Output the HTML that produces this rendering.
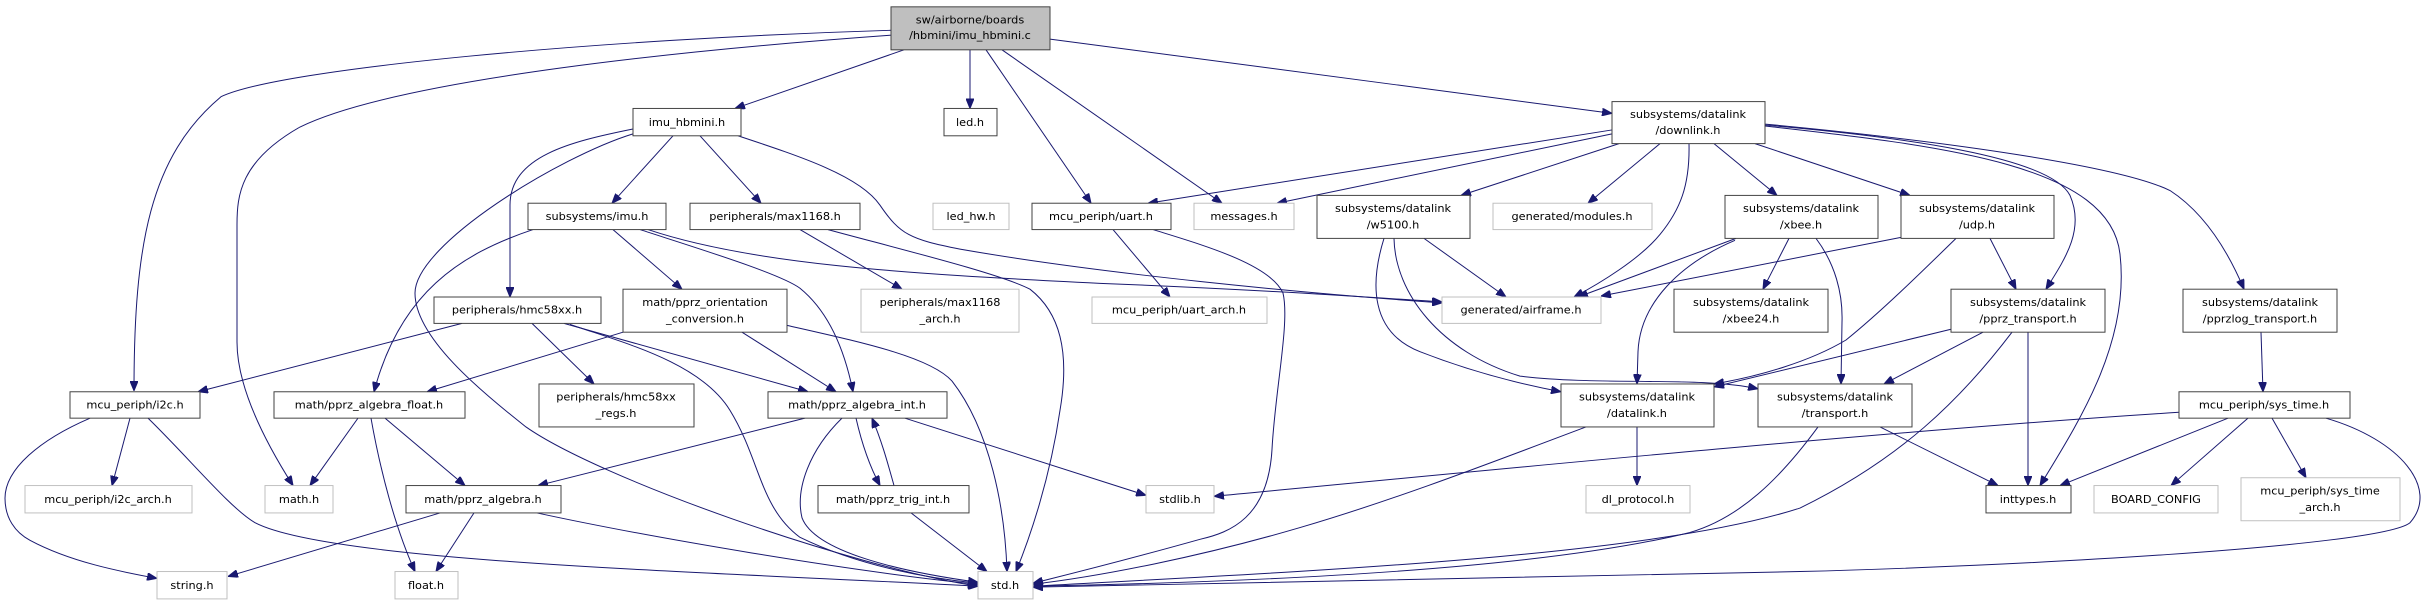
<!DOCTYPE html>
<html><head><meta charset="utf-8"><style>
html,body{margin:0;padding:0;background:#fff;}
svg{display:block;}
text{font-family:"DejaVu Sans","Liberation Sans",sans-serif;font-size:11.3px;fill:#000;text-anchor:middle;}
.n{fill:#fff;stroke:#404040;stroke-width:1;}
.g{fill:#fff;stroke:#bfbfbf;stroke-width:1;}
.e{fill:none;stroke:#191970;stroke-width:1;marker-end:url(#a);}
</style></head><body>
<svg width="2426" height="600" viewBox="0 0 2426 600" xmlns="http://www.w3.org/2000/svg">
<defs><marker id="a" markerWidth="10" markerHeight="8" refX="10" refY="4" orient="auto" markerUnits="userSpaceOnUse"><path d="M0,0 L10,4 L0,8 z" fill="#191970" stroke="#191970"/></marker></defs>
<g transform="scale(1,0.977)">
<g>
<path class="e" d="M891,31 C600,40 280,70 221,99 C150,160 134,250 134,400"/>
<path class="e" d="M891,36 C700,50 400,80 300,130 C240,165 237,200 237,230 L237,350 C237,400 270,460 293,497"/>
<path class="e" d="M904,51 L735,111"/>
<path class="e" d="M970,51 L970,111"/>
<path class="e" d="M986,51 L1091,208"/>
<path class="e" d="M1002,51 L1222,208"/>
<path class="e" d="M1050,40 L1612,116"/>
<path class="e" d="M673,139 L612,208"/>
<path class="e" d="M700,139 L761,208"/>
<path class="e" d="M633,132 C570,145 510,160 510,210 L510,304"/>
<path class="e" d="M633,137 C560,160 415,250 415,300 C415,345 480,400 526,437 C600,490 850,580 978,600"/>
<path class="e" d="M738,139 C800,160 860,180 880,210 C900,240 910,245 960,255 C1100,280 1300,300 1442,310"/>
<path class="e" d="M533,235 C460,260 400,300 374,401"/>
<path class="e" d="M613,235 L682,296"/>
<path class="e" d="M640,235 C700,255 780,280 800,295 C830,320 845,360 853,401"/>
<path class="e" d="M648,235 C750,270 900,280 1100,290 C1250,296 1350,303 1442,309"/>
<path class="e" d="M800,235 L902,296"/>
<path class="e" d="M828,235 C900,255 1000,280 1030,296 C1060,320 1070,360 1060,420 C1050,490 1030,550 1016,585"/>
<path class="e" d="M1113,235 L1170,304"/>
<path class="e" d="M1153,235 C1200,250 1270,270 1283,300 C1290,330 1275,400 1272,460 C1268,530 1230,545 1200,552 C1120,575 1060,590 1033,597"/>
<path class="e" d="M1612,133 L1148,208"/>
<path class="e" d="M1612,137 L1277,208"/>
<path class="e" d="M1619,147 L1461,200"/>
<path class="e" d="M1660,147 L1588,208"/>
<path class="e" d="M1689,147 C1690,190 1680,215 1660,240 C1640,265 1600,290 1574,304"/>
<path class="e" d="M1714,147 L1777,200"/>
<path class="e" d="M1755,147 L1910,200"/>
<path class="e" d="M1765,128 C1900,140 2050,160 2070,200 C2085,235 2065,265 2046,296"/>
<path class="e" d="M1765,129 C1950,150 2110,170 2120,260 C2130,350 2080,430 2040,497"/>
<path class="e" d="M1765,127 C1950,145 2120,170 2170,195 C2200,215 2225,250 2244,296"/>
<path class="e" d="M1424,244 L1506,304"/>
<path class="e" d="M1384,244 C1370,290 1370,340 1420,360 C1470,380 1520,393 1561,401"/>
<path class="e" d="M1394,244 C1395,300 1440,360 1520,385 C1600,395 1700,385 1758,398"/>
<path class="e" d="M1736,244 L1578,304"/>
<path class="e" d="M1789,244 L1763,296"/>
<path class="e" d="M1735,246 C1680,270 1640,310 1638,360 L1637,393"/>
<path class="e" d="M1816,244 C1835,270 1843,300 1842,330 L1841,393"/>
<path class="e" d="M1901,243 L1601,303"/>
<path class="e" d="M1956,244 C1920,280 1880,320 1846,348 C1810,370 1760,385 1714,393"/>
<path class="e" d="M1990,244 L2016,296"/>
<path class="e" d="M1951,337 L1714,396"/>
<path class="e" d="M1983,340 L1884,393"/>
<path class="e" d="M2028,340 L2028,497"/>
<path class="e" d="M2012,340 C1960,410 1900,470 1800,520 C1650,570 1300,585 1033,600"/>
<path class="e" d="M2261,340 L2263,401"/>
<path class="e" d="M2179,422 C1900,440 1500,480 1214,508"/>
<path class="e" d="M2228,428 L2060,497"/>
<path class="e" d="M2248,428 L2171,497"/>
<path class="e" d="M2272,428 L2306,489"/>
<path class="e" d="M2326,428 C2400,450 2440,500 2410,535 C2380,560 2000,580 1800,585 C1500,592 1200,598 1033,601"/>
<path class="e" d="M1880,437 L1998,497"/>
<path class="e" d="M1818,437 C1780,490 1740,530 1690,545 C1550,580 1300,595 1033,600"/>
<path class="e" d="M1637,437 L1637,497"/>
<path class="e" d="M1586,437 C1500,470 1400,510 1300,540 C1200,570 1100,590 1033,598"/>
<path class="e" d="M805,428 L538,497"/>
<path class="e" d="M842,428 C810,460 795,500 802,530 C815,565 900,585 978,596"/>
<path class="e" d="M856,428 C862,455 870,478 880,497"/>
<path class="e" d="M894,497 C888,475 882,452 872,428"/>
<path class="e" d="M905,428 L1146,507"/>
<path class="e" d="M911,525 L987,585"/>
<path class="e" d="M440,525 L228,590"/>
<path class="e" d="M474,525 L436,585"/>
<path class="e" d="M537,525 C650,550 850,585 978,598"/>
<path class="e" d="M358,428 L310,497"/>
<path class="e" d="M371,428 C380,480 395,540 415,585"/>
<path class="e" d="M385,428 L465,497"/>
<path class="e" d="M623,340 L427,401"/>
<path class="e" d="M742,340 L836,401"/>
<path class="e" d="M787,333 C860,350 930,365 952,390 C990,440 1005,520 1007,585"/>
<path class="e" d="M462,331 L198,401"/>
<path class="e" d="M532,331 L594,393"/>
<path class="e" d="M564,331 L808,401"/>
<path class="e" d="M570,332 C620,350 700,370 730,420 C760,470 760,520 800,550 C860,580 930,592 978,597"/>
<path class="e" d="M130,428 L112,497"/>
<path class="e" d="M90,428 C40,450 5,480 5,510 C5,530 15,545 30,553 C70,575 120,585 157,592"/>
<path class="e" d="M148,428 C190,470 230,520 255,535 C330,575 700,585 978,600"/>
</g>
<g>
<rect x="891" y="7" width="159" height="44" fill="#bfbfbf" stroke="#404040"/><text x="970" y="24">sw/airborne/boards</text><text x="970" y="40">/hbmini/imu_hbmini.c</text>
<rect class="n" x="633" y="111" width="108" height="28"/><text x="687" y="129">imu_hbmini.h</text>
<rect class="n" x="944" y="111" width="53" height="28"/><text x="970" y="129">led.h</text>
<rect class="g" x="933" y="208" width="76" height="27"/><text x="971" y="225">led_hw.h</text>
<rect class="n" x="690" y="208" width="170" height="27"/><text x="775" y="225">peripherals/max1168.h</text>
<rect class="n" x="1032" y="208" width="139" height="27"/><text x="1101" y="225">mcu_periph/uart.h</text>
<rect class="g" x="1194" y="208" width="100" height="27"/><text x="1244" y="225">messages.h</text>
<rect class="n" x="528" y="208" width="138" height="27"/><text x="597" y="225">subsystems/imu.h</text>
<rect class="n" x="434" y="304" width="167" height="27"/><text x="517" y="321">peripherals/hmc58xx.h</text>
<rect class="n" x="623" y="296" width="164" height="44"/><text x="705" y="313">math/pprz_orientation</text><text x="705" y="330">_conversion.h</text>
<rect class="g" x="861" y="296" width="158" height="44"/><text x="940" y="313">peripherals/max1168</text><text x="940" y="330">_arch.h</text>
<rect class="g" x="1092" y="304" width="175" height="27"/><text x="1179" y="321">mcu_periph/uart_arch.h</text>
<rect class="n" x="70" y="401" width="130" height="27"/><text x="135" y="418">mcu_periph/i2c.h</text>
<rect class="n" x="274" y="401" width="191" height="27"/><text x="369" y="418">math/pprz_algebra_float.h</text>
<rect class="n" x="539" y="393" width="155" height="44"/><text x="616" y="410">peripherals/hmc58xx</text><text x="616" y="427">_regs.h</text>
<rect class="n" x="768" y="401" width="179" height="27"/><text x="857" y="418">math/pprz_algebra_int.h</text>
<rect class="g" x="25" y="497" width="167" height="28"/><text x="108" y="515">mcu_periph/i2c_arch.h</text>
<rect class="g" x="265" y="497" width="68" height="28"/><text x="299" y="515">math.h</text>
<rect class="n" x="406" y="497" width="155" height="28"/><text x="483" y="515">math/pprz_algebra.h</text>
<rect class="n" x="818" y="497" width="151" height="28"/><text x="893" y="515">math/pprz_trig_int.h</text>
<rect class="g" x="1146" y="497" width="68" height="28"/><text x="1180" y="515">stdlib.h</text>
<rect class="g" x="157" y="585" width="70" height="28"/><text x="192" y="603">string.h</text>
<rect class="g" x="395" y="585" width="63" height="28"/><text x="426" y="603">float.h</text>
<rect class="g" x="978" y="585" width="55" height="28"/><text x="1005" y="603">std.h</text>
<rect class="n" x="1612" y="104" width="153" height="43"/><text x="1688" y="121">subsystems/datalink</text><text x="1688" y="137">/downlink.h</text>
<rect class="n" x="1317" y="200" width="153" height="44"/><text x="1393" y="217">subsystems/datalink</text><text x="1393" y="234">/w5100.h</text>
<rect class="g" x="1493" y="208" width="159" height="27"/><text x="1572" y="225">generated/modules.h</text>
<rect class="n" x="1725" y="200" width="153" height="44"/><text x="1801" y="217">subsystems/datalink</text><text x="1801" y="234">/xbee.h</text>
<rect class="n" x="1901" y="200" width="153" height="44"/><text x="1977" y="217">subsystems/datalink</text><text x="1977" y="234">/udp.h</text>
<rect class="g" x="1442" y="304" width="159" height="27"/><text x="1521" y="321">generated/airframe.h</text>
<rect class="n" x="1674" y="296" width="154" height="44"/><text x="1751" y="313">subsystems/datalink</text><text x="1751" y="330">/xbee24.h</text>
<rect class="n" x="1951" y="296" width="154" height="44"/><text x="2028" y="313">subsystems/datalink</text><text x="2028" y="330">/pprz_transport.h</text>
<rect class="n" x="2183" y="296" width="154" height="44"/><text x="2260" y="313">subsystems/datalink</text><text x="2260" y="330">/pprzlog_transport.h</text>
<rect class="n" x="1561" y="393" width="153" height="44"/><text x="1637" y="410">subsystems/datalink</text><text x="1637" y="427">/datalink.h</text>
<rect class="n" x="1758" y="393" width="154" height="44"/><text x="1835" y="410">subsystems/datalink</text><text x="1835" y="427">/transport.h</text>
<rect class="n" x="2179" y="401" width="171" height="27"/><text x="2264" y="418">mcu_periph/sys_time.h</text>
<rect class="g" x="1586" y="497" width="104" height="28"/><text x="1638" y="515">dl_protocol.h</text>
<rect class="n" x="1986" y="497" width="85" height="28"/><text x="2028" y="515">inttypes.h</text>
<rect class="g" x="2094" y="497" width="124" height="28"/><text x="2156" y="515">BOARD_CONFIG</text>
<rect class="g" x="2241" y="489" width="159" height="44"/><text x="2320" y="506">mcu_periph/sys_time</text><text x="2320" y="523">_arch.h</text>
</g>
</g>
</svg>
</body></html>
